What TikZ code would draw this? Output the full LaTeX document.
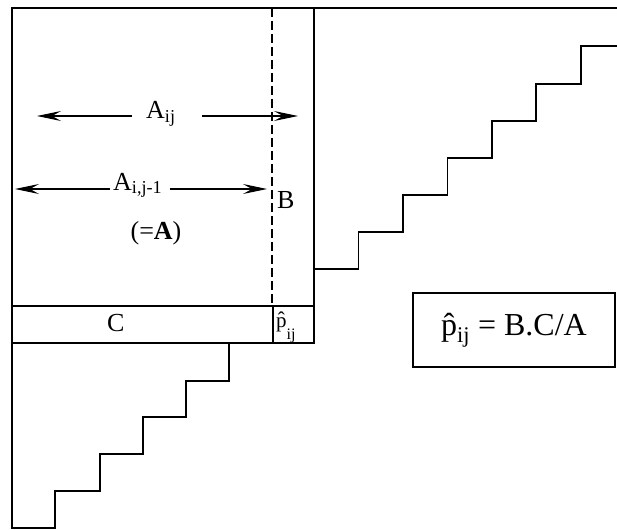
\documentclass[tikz,border=0pt]{standalone}
\usepackage{fontspec}
\setmainfont{Liberation Serif}
\usetikzlibrary{arrows.meta}
\begin{document}
\begin{tikzpicture}[x=1pt,y=-1pt,
  wall/.style={line width=1.2pt, line join=miter, line cap=rect},
  thickwall/.style={line width=2.2pt, line cap=rect},
  dashwall/.style={line width=1.1pt, dash pattern=on 9pt off 4pt},
  dimarrow/.style={line width=1.1pt, -{Stealth[length=24pt,width=10pt,inset=9pt]}},
  lbl/.style={font=\fontsize{26}{26}\selectfont, inner sep=0pt},
  sublbl/.style={font=\fontsize{21}{21}\selectfont, inner sep=0pt},
]
\useasboundingbox (0,0) rectangle (617,529);
% outline
\draw[wall] (617,8) -- (12,8) -- (12,528) -- (55,528) -- (55,491) -- (100,491) -- (100,454)
  -- (143,454) -- (143,417) -- (186,417) -- (186,381) -- (229,381) -- (229,343);
\draw[wall] (314,8) -- (314,343);
\draw[wall] (12,306) -- (314,306);
\draw[wall] (12,343) -- (314,343);
\draw[thickwall] (273,343) -- (273,306) -- (314,306);
\draw[thickwall] (314,270) -- (314,306);
\draw[dashwall] (272,8) -- (272,306);
% upper staircase
\draw[wall] (314,269) -- (358.5,269) -- (358.5,232) -- (403,232) -- (403,195) -- (447.5,195)
  -- (447.5,158) -- (492,158) -- (492,121) -- (536,121) -- (536,84) -- (581,84) -- (581,46) -- (617,46);
% labels
\node[lbl, anchor=base west] (aij) at (146,119) {A\textsubscript{ij}};
\node[lbl, anchor=base west] (aij1) at (113,190) {A\textsubscript{i,j-1}};
\node[lbl, anchor=base] (eqA) at (156,239) {(=\textbf{A})};
\node[lbl, anchor=base west] (B) at (277,208) {B};
\node[lbl, anchor=base west] (C) at (107,331) {C};
\node[sublbl, anchor=base west] (p) at (276,327) {\^{p}\raisebox{-12pt}{\fontsize{16}{16}\selectfont ij}};
% dimension arrows
\coordinate (aijLs) at (132,116);
\coordinate (aijLe) at (37,116);
\coordinate (aijRs) at (202,116);
\coordinate (aijRe) at (298,116);
\coordinate (aij1Ls) at (110,189);
\coordinate (aij1Le) at (15,189);
\coordinate (aij1Rs) at (170,189);
\coordinate (aij1Re) at (267,189);
\draw[dimarrow] (aijLs) -- (aijLe);
\draw[dimarrow] (aijRs) -- (aijRe);
\draw[dimarrow] (aij1Ls) -- (aij1Le);
\draw[dimarrow] (aij1Rs) -- (aij1Re);
% formula box
\node[draw, line width=1.3pt, minimum width=202pt, minimum height=74pt, inner sep=0pt,
  font=\fontsize{32}{32}\selectfont] (formula) at (514,330) {\^{p}\textsubscript{ij} = B.C/A};
\end{tikzpicture}
\end{document}
